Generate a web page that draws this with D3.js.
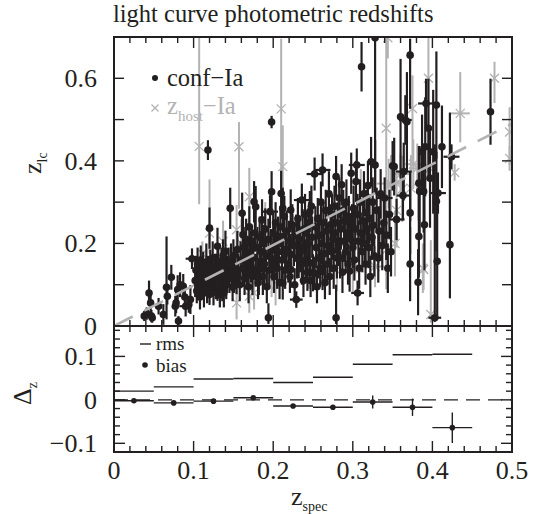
<!DOCTYPE html>
<html>
<head>
<meta charset="utf-8">
<script src="https://d3js.org/d3.v7.min.js"></script>
<style>
  body { margin: 0; background: #fff; }
  text { font-family: "Liberation Serif", "Times New Roman", serif; fill: #231f20; }
</style>
</head>
<body>
<div id="chart"></div>
<script>
// conf-Ia: [z_spec, z_lc, error below, error above, error in z_spec]
const confIa = [
  [0.038, 0.024, 0.012, 0.012, 0.004], [0.041, 0.030, 0.015, 0.015, 0], [0.044, 0.080, 0.030, 0.030, 0],
  [0.046, 0.056, 0.025, 0.025, 0], [0.047, 0.024, 0.015, 0.015, 0], [0.048, 0.020, 0.012, 0.012, 0.003],
  [0.056, 0.048, 0.020, 0.020, 0], [0.062, 0.028, 0.025, 0.025, 0], [0.066, 0.094, 0.078, 0.123, 0],
  [0.067, 0.072, 0.020, 0.020, 0], [0.072, 0.118, 0.030, 0.030, 0], [0.077, 0.048, 0.025, 0.025, 0],
  [0.078, 0.056, 0.025, 0.035, 0], [0.080, 0.088, 0.035, 0.035, 0], [0.081, 0.012, 0.012, 0.012, 0],
  [0.083, 0.100, 0.030, 0.030, 0], [0.087, 0.096, 0.030, 0.030, 0], [0.089, 0.070, 0.030, 0.030, 0],
  [0.090, 0.048, 0.025, 0.025, 0.008], [0.094, 0.052, 0.020, 0.020, 0], [0.096, 0.064, 0.035, 0.035, 0],
  [0.098, 0.163, 0.025, 0.025, 0.008],
  [0.102, 0.110, 0.04, 0.04, 0], [0.103, 0.135, 0.035, 0.035, 0], [0.104, 0.085, 0.03, 0.03, 0],
  [0.105, 0.150, 0.04, 0.04, 0], [0.106, 0.100, 0.035, 0.035, 0.006], [0.107, 0.125, 0.04, 0.04, 0],
  [0.108, 0.070, 0.03, 0.03, 0], [0.109, 0.160, 0.035, 0.035, 0], [0.110, 0.115, 0.045, 0.045, 0],
  [0.111, 0.095, 0.03, 0.03, 0], [0.112, 0.140, 0.04, 0.04, 0], [0.113, 0.080, 0.035, 0.035, 0],
  [0.114, 0.120, 0.04, 0.04, 0], [0.115, 0.105, 0.03, 0.03, 0], [0.116, 0.155, 0.045, 0.045, 0],
  [0.117, 0.090, 0.035, 0.035, 0], [0.118, 0.130, 0.04, 0.04, 0], [0.118, 0.426, 0.024, 0.024, 0],
  [0.119, 0.110, 0.035, 0.035, 0], [0.120, 0.076, 0.025, 0.025, 0.008], [0.120, 0.237, 0.05, 0.05, 0],
  [0.121, 0.145, 0.04, 0.04, 0], [0.122, 0.100, 0.03, 0.03, 0], [0.123, 0.125, 0.045, 0.045, 0],
  [0.124, 0.165, 0.04, 0.04, 0], [0.125, 0.085, 0.035, 0.035, 0], [0.126, 0.115, 0.04, 0.04, 0],
  [0.127, 0.140, 0.035, 0.035, 0], [0.128, 0.095, 0.03, 0.03, 0], [0.129, 0.130, 0.045, 0.045, 0],
  [0.130, 0.193, 0.045, 0.045, 0], [0.130, 0.096, 0.035, 0.035, 0], [0.131, 0.157, 0.035, 0.035, 0],
  [0.132, 0.105, 0.035, 0.035, 0], [0.133, 0.075, 0.03, 0.03, 0.006], [0.134, 0.120, 0.04, 0.04, 0],
  [0.135, 0.145, 0.045, 0.045, 0], [0.136, 0.090, 0.03, 0.03, 0], [0.137, 0.170, 0.04, 0.04, 0],
  [0.138, 0.080, 0.035, 0.035, 0], [0.139, 0.135, 0.04, 0.04, 0], [0.140, 0.181, 0.05, 0.05, 0],
  [0.141, 0.100, 0.035, 0.035, 0], [0.142, 0.125, 0.045, 0.045, 0], [0.144, 0.150, 0.04, 0.04, 0],
  [0.145, 0.115, 0.035, 0.035, 0], [0.146, 0.285, 0.05, 0.05, 0], [0.147, 0.160, 0.04, 0.04, 0],
  [0.148, 0.130, 0.045, 0.045, 0], [0.149, 0.095, 0.035, 0.035, 0], [0.150, 0.170, 0.04, 0.04, 0],
  [0.151, 0.120, 0.04, 0.04, 0], [0.152, 0.145, 0.045, 0.045, 0], [0.154, 0.112, 0.035, 0.035, 0],
  [0.155, 0.185, 0.045, 0.045, 0], [0.156, 0.135, 0.04, 0.04, 0], [0.158, 0.100, 0.04, 0.04, 0],
  [0.159, 0.160, 0.045, 0.045, 0],
  [0.161, 0.273, 0.05, 0.05, 0], [0.162, 0.221, 0.05, 0.05, 0], [0.162, 0.140, 0.045, 0.045, 0],
  [0.163, 0.190, 0.05, 0.05, 0], [0.164, 0.115, 0.04, 0.04, 0], [0.165, 0.170, 0.045, 0.045, 0],
  [0.166, 0.210, 0.05, 0.05, 0], [0.167, 0.130, 0.04, 0.04, 0], [0.168, 0.155, 0.045, 0.045, 0],
  [0.169, 0.095, 0.04, 0.04, 0], [0.170, 0.240, 0.05, 0.05, 0], [0.171, 0.180, 0.05, 0.05, 0],
  [0.172, 0.145, 0.04, 0.04, 0], [0.173, 0.200, 0.045, 0.045, 0.006], [0.174, 0.120, 0.045, 0.045, 0],
  [0.175, 0.165, 0.05, 0.05, 0], [0.176, 0.301, 0.05, 0.05, 0], [0.177, 0.225, 0.045, 0.045, 0],
  [0.178, 0.289, 0.05, 0.05, 0], [0.178, 0.135, 0.04, 0.04, 0], [0.180, 0.190, 0.05, 0.05, 0],
  [0.181, 0.105, 0.04, 0.04, 0], [0.182, 0.120, 0.045, 0.045, 0], [0.183, 0.215, 0.05, 0.05, 0],
  [0.184, 0.140, 0.04, 0.04, 0], [0.185, 0.180, 0.05, 0.05, 0], [0.186, 0.257, 0.05, 0.05, 0],
  [0.187, 0.120, 0.045, 0.045, 0], [0.188, 0.200, 0.045, 0.045, 0], [0.189, 0.150, 0.05, 0.05, 0],
  [0.190, 0.235, 0.05, 0.05, 0], [0.191, 0.170, 0.04, 0.04, 0], [0.192, 0.095, 0.04, 0.04, 0],
  [0.194, 0.020, 0.015, 0.035, 0], [0.194, 0.210, 0.05, 0.05, 0], [0.195, 0.135, 0.045, 0.045, 0],
  [0.196, 0.277, 0.04, 0.04, 0.01], [0.197, 0.185, 0.05, 0.05, 0], [0.198, 0.325, 0.05, 0.05, 0],
  [0.198, 0.494, 0.015, 0.015, 0], [0.199, 0.155, 0.045, 0.045, 0], [0.200, 0.225, 0.05, 0.05, 0],
  [0.201, 0.120, 0.04, 0.04, 0], [0.202, 0.195, 0.05, 0.05, 0], [0.203, 0.250, 0.05, 0.05, 0],
  [0.204, 0.165, 0.045, 0.045, 0], [0.205, 0.140, 0.05, 0.05, 0], [0.206, 0.215, 0.05, 0.05, 0],
  [0.207, 0.180, 0.045, 0.045, 0], [0.208, 0.105, 0.04, 0.04, 0], [0.209, 0.240, 0.05, 0.05, 0],
  [0.210, 0.321, 0.055, 0.055, 0], [0.211, 0.160, 0.05, 0.05, 0], [0.212, 0.104, 0.04, 0.04, 0],
  [0.212, 0.285, 0.05, 0.05, 0], [0.213, 0.217, 0.05, 0.05, 0], [0.214, 0.265, 0.05, 0.05, 0],
  [0.215, 0.135, 0.045, 0.045, 0], [0.216, 0.185, 0.05, 0.05, 0], [0.217, 0.230, 0.05, 0.05, 0.006],
  [0.219, 0.150, 0.045, 0.045, 0], [0.220, 0.205, 0.05, 0.05, 0], [0.221, 0.120, 0.04, 0.04, 0],
  [0.222, 0.281, 0.05, 0.05, 0], [0.222, 0.173, 0.05, 0.05, 0], [0.222, 0.137, 0.045, 0.045, 0],
  [0.224, 0.245, 0.05, 0.05, 0], [0.226, 0.195, 0.05, 0.05, 0], [0.227, 0.100, 0.04, 0.04, 0],
  [0.229, 0.064, 0.02, 0.02, 0.008], [0.229, 0.220, 0.05, 0.05, 0], [0.230, 0.165, 0.05, 0.05, 0],
  [0.231, 0.260, 0.05, 0.05, 0], [0.232, 0.161, 0.045, 0.045, 0], [0.233, 0.210, 0.05, 0.05, 0],
  [0.234, 0.180, 0.05, 0.05, 0], [0.236, 0.305, 0.04, 0.04, 0.01], [0.236, 0.150, 0.05, 0.05, 0],
  [0.237, 0.233, 0.05, 0.05, 0], [0.238, 0.110, 0.04, 0.04, 0], [0.239, 0.195, 0.05, 0.05, 0],
  [0.240, 0.270, 0.05, 0.05, 0], [0.241, 0.160, 0.05, 0.05, 0], [0.242, 0.225, 0.05, 0.05, 0],
  [0.243, 0.130, 0.045, 0.045, 0], [0.244, 0.200, 0.05, 0.05, 0], [0.245, 0.250, 0.05, 0.05, 0],
  [0.246, 0.277, 0.05, 0.05, 0], [0.246, 0.153, 0.05, 0.05, 0], [0.247, 0.110, 0.04, 0.04, 0],
  [0.248, 0.290, 0.05, 0.05, 0], [0.249, 0.215, 0.05, 0.05, 0], [0.250, 0.129, 0.045, 0.045, 0],
  [0.252, 0.368, 0.04, 0.04, 0.01], [0.252, 0.128, 0.04, 0.04, 0], [0.253, 0.240, 0.05, 0.05, 0],
  [0.254, 0.190, 0.05, 0.05, 0], [0.255, 0.095, 0.04, 0.04, 0], [0.256, 0.260, 0.05, 0.05, 0],
  [0.257, 0.165, 0.05, 0.05, 0], [0.258, 0.220, 0.05, 0.05, 0], [0.259, 0.140, 0.045, 0.045, 0],
  [0.260, 0.300, 0.05, 0.05, 0], [0.261, 0.200, 0.05, 0.05, 0], [0.262, 0.378, 0.04, 0.04, 0.01],
  [0.262, 0.132, 0.045, 0.045, 0], [0.263, 0.250, 0.05, 0.05, 0], [0.264, 0.175, 0.05, 0.05, 0],
  [0.265, 0.105, 0.04, 0.04, 0], [0.266, 0.280, 0.05, 0.05, 0], [0.267, 0.230, 0.05, 0.05, 0],
  [0.268, 0.150, 0.05, 0.05, 0], [0.269, 0.195, 0.05, 0.05, 0], [0.270, 0.320, 0.055, 0.055, 0],
  [0.271, 0.120, 0.045, 0.045, 0], [0.272, 0.245, 0.05, 0.05, 0], [0.273, 0.180, 0.05, 0.05, 0],
  [0.274, 0.270, 0.05, 0.05, 0], [0.275, 0.210, 0.05, 0.05, 0], [0.276, 0.140, 0.05, 0.05, 0],
  [0.277, 0.290, 0.05, 0.05, 0], [0.278, 0.225, 0.05, 0.05, 0], [0.279, 0.020, 0.015, 0.08, 0],
  [0.279, 0.362, 0.05, 0.05, 0], [0.280, 0.165, 0.05, 0.05, 0], [0.281, 0.250, 0.05, 0.05, 0],
  [0.282, 0.195, 0.05, 0.05, 0], [0.283, 0.310, 0.05, 0.05, 0], [0.284, 0.165, 0.05, 0.05, 0],
  [0.285, 0.235, 0.05, 0.05, 0], [0.286, 0.342, 0.05, 0.05, 0], [0.287, 0.130, 0.05, 0.05, 0],
  [0.288, 0.280, 0.05, 0.05, 0], [0.289, 0.205, 0.05, 0.05, 0], [0.290, 0.255, 0.05, 0.05, 0],
  [0.291, 0.180, 0.05, 0.05, 0], [0.292, 0.300, 0.055, 0.055, 0], [0.293, 0.225, 0.05, 0.05, 0],
  [0.294, 0.150, 0.05, 0.05, 0], [0.295, 0.265, 0.05, 0.05, 0], [0.296, 0.133, 0.05, 0.05, 0],
  [0.297, 0.210, 0.05, 0.05, 0], [0.298, 0.370, 0.05, 0.05, 0], [0.299, 0.245, 0.05, 0.05, 0],
  [0.300, 0.190, 0.05, 0.05, 0], [0.301, 0.285, 0.055, 0.055, 0], [0.302, 0.160, 0.05, 0.05, 0],
  [0.303, 0.235, 0.05, 0.05, 0], [0.304, 0.350, 0.05, 0.05, 0], [0.305, 0.390, 0.04, 0.04, 0.01],
  [0.306, 0.080, 0.03, 0.03, 0.008], [0.306, 0.270, 0.05, 0.05, 0], [0.307, 0.205, 0.05, 0.05, 0],
  [0.308, 0.140, 0.05, 0.05, 0], [0.309, 0.300, 0.055, 0.055, 0], [0.310, 0.225, 0.05, 0.05, 0],
  [0.311, 0.628, 0.06, 0.06, 0], [0.312, 0.180, 0.05, 0.05, 0], [0.313, 0.255, 0.055, 0.055, 0],
  [0.314, 0.320, 0.055, 0.055, 0], [0.315, 0.200, 0.05, 0.05, 0], [0.316, 0.150, 0.05, 0.05, 0],
  [0.317, 0.275, 0.055, 0.055, 0], [0.318, 0.235, 0.05, 0.05, 0], [0.319, 0.340, 0.06, 0.06, 0],
  [0.320, 0.190, 0.05, 0.05, 0], [0.321, 0.260, 0.06, 0.06, 0], [0.322, 0.120, 0.05, 0.05, 0],
  [0.323, 0.398, 0.06, 0.06, 0], [0.324, 0.215, 0.055, 0.055, 0], [0.325, 0.300, 0.06, 0.06, 0],
  [0.326, 0.244, 0.05, 0.05, 0], [0.327, 0.170, 0.05, 0.05, 0], [0.328, 0.698, 0.38, 0.01, 0],
  [0.328, 0.390, 0.06, 0.06, 0], [0.330, 0.280, 0.055, 0.055, 0], [0.332, 0.165, 0.06, 0.06, 0],
  [0.333, 0.230, 0.06, 0.06, 0], [0.335, 0.320, 0.06, 0.06, 0], [0.337, 0.195, 0.06, 0.06, 0],
  [0.339, 0.250, 0.06, 0.06, 0], [0.340, 0.310, 0.05, 0.05, 0.01], [0.342, 0.220, 0.06, 0.06, 0],
  [0.344, 0.140, 0.06, 0.06, 0], [0.346, 0.270, 0.06, 0.06, 0], [0.348, 0.180, 0.06, 0.06, 0],
  [0.350, 0.388, 0.06, 0.06, 0], [0.352, 0.386, 0.07, 0.07, 0], [0.355, 0.258, 0.05, 0.05, 0.01],
  [0.360, 0.507, 0.15, 0.14, 0], [0.363, 0.316, 0.06, 0.06, 0.008], [0.364, 0.374, 0.07, 0.07, 0.01],
  [0.366, 0.499, 0.06, 0.06, 0.008], [0.368, 0.495, 0.12, 0.12, 0], [0.372, 0.656, 0.13, 0.04, 0],
  [0.372, 0.274, 0.10, 0.10, 0], [0.372, 0.150, 0.09, 0.09, 0], [0.382, 0.106, 0.08, 0.08, 0],
  [0.383, 0.217, 0.10, 0.10, 0], [0.383, 0.346, 0.09, 0.09, 0], [0.384, 0.326, 0.11, 0.11, 0],
  [0.387, 0.422, 0.09, 0.09, 0], [0.389, 0.326, 0.10, 0.10, 0], [0.390, 0.245, 0.11, 0.11, 0],
  [0.391, 0.434, 0.12, 0.12, 0], [0.392, 0.539, 0.06, 0.06, 0.01], [0.395, 0.479, 0.12, 0.12, 0],
  [0.397, 0.358, 0.12, 0.12, 0], [0.401, 0.422, 0.15, 0.15, 0], [0.403, 0.020, 0.01, 0.42, 0.008],
  [0.405, 0.535, 0.13, 0.13, 0], [0.405, 0.302, 0.12, 0.12, 0], [0.406, 0.157, 0.14, 0.14, 0],
  [0.407, 0.322, 0.05, 0.05, 0.01], [0.412, 0.434, 0.10, 0.10, 0], [0.422, 0.197, 0.13, 0.32, 0],
  [0.424, 0.410, 0.03, 0.03, 0.01], [0.473, 0.519, 0.08, 0.08, 0]
];

// z_host-Ia: [z_spec, z_lc, error below, error above, error in z_spec]
const hostIa = [
  [0.107, 0.435, 0.14, 0.27, 0], [0.111, 0.175, 0.03, 0.03, 0], [0.120, 0.225, 0.05, 0.13, 0],
  [0.137, 0.205, 0.05, 0.05, 0], [0.140, 0.130, 0.05, 0.05, 0], [0.154, 0.056, 0.04, 0.04, 0],
  [0.154, 0.233, 0.06, 0.06, 0], [0.157, 0.434, 0.15, 0.06, 0], [0.160, 0.200, 0.06, 0.06, 0],
  [0.170, 0.313, 0.07, 0.07, 0], [0.170, 0.072, 0.04, 0.04, 0], [0.176, 0.080, 0.04, 0.04, 0],
  [0.190, 0.230, 0.07, 0.07, 0], [0.198, 0.120, 0.05, 0.05, 0], [0.203, 0.100, 0.05, 0.05, 0],
  [0.210, 0.526, 0.25, 0.17, 0], [0.212, 0.386, 0.08, 0.10, 0], [0.225, 0.200, 0.07, 0.07, 0],
  [0.245, 0.160, 0.07, 0.07, 0], [0.260, 0.220, 0.08, 0.08, 0], [0.265, 0.125, 0.06, 0.06, 0],
  [0.280, 0.144, 0.06, 0.06, 0], [0.285, 0.260, 0.07, 0.07, 0], [0.300, 0.140, 0.06, 0.06, 0],
  [0.310, 0.300, 0.08, 0.08, 0], [0.318, 0.210, 0.07, 0.07, 0], [0.328, 0.144, 0.05, 0.05, 0.012],
  [0.335, 0.250, 0.08, 0.08, 0], [0.342, 0.184, 0.06, 0.06, 0], [0.342, 0.479, 0.39, 0.22, 0],
  [0.344, 0.698, 0.05, 0.01, 0], [0.345, 0.345, 0.06, 0.06, 0.015], [0.348, 0.344, 0.07, 0.07, 0],
  [0.353, 0.200, 0.08, 0.08, 0], [0.355, 0.280, 0.09, 0.09, 0], [0.360, 0.368, 0.05, 0.05, 0.012],
  [0.362, 0.332, 0.08, 0.08, 0], [0.373, 0.334, 0.08, 0.08, 0], [0.375, 0.527, 0.14, 0.08, 0],
  [0.376, 0.392, 0.06, 0.06, 0.01], [0.381, 0.382, 0.06, 0.06, 0.01], [0.388, 0.140, 0.06, 0.06, 0],
  [0.389, 0.137, 0.05, 0.05, 0], [0.395, 0.600, 0.21, 0.10, 0], [0.397, 0.382, 0.08, 0.08, 0],
  [0.398, 0.028, 0.02, 0.18, 0], [0.428, 0.372, 0.02, 0.02, 0], [0.435, 0.515, 0.07, 0.10, 0.012],
  [0.478, 0.600, 0.06, 0.04, 0], [0.497, 0.470, 0.08, 0.06, 0], [0.497, 0.406, 0.03, 0.03, 0]
];

// bottom panel: rms per bin [bin start, bin end, rms]
const rmsBins = [
  [0.00, 0.05, 0.020], [0.05, 0.10, 0.030], [0.10, 0.15, 0.048], [0.15, 0.20, 0.049],
  [0.20, 0.25, 0.040], [0.25, 0.30, 0.052], [0.30, 0.35, 0.082], [0.35, 0.40, 0.104],
  [0.40, 0.45, 0.105]
];
// bias per bin [bin centre, bias, error]
const biasBins = [
  [0.025, -0.002, 0.004], [0.075, -0.007, 0.004], [0.125, -0.003, 0.004], [0.175, 0.005, 0.004],
  [0.225, -0.014, 0.004], [0.275, -0.017, 0.004], [0.325, -0.005, 0.015], [0.375, -0.017, 0.02],
  [0.425, -0.064, 0.035]
];
const fitLine = [[0, 0], [0.5, 0.49]];

const xTicks = [0, 0.1, 0.2, 0.3, 0.4, 0.5];
const yTopLabels = [0, 0.2, 0.4, 0.6];
const yBotLabels = [-0.1, 0, 0.1];

const black = "#231f20", grey = "#b2b2b2";

const svg = d3.select("#chart").append("svg")
  .attr("width", 548).attr("height", 514);

const x = d3.scaleLinear().domain([0, 0.5]).range([114, 512]);
const yTop = d3.scaleLinear().domain([0, 0.7]).range([326, 37]);
const yBot = d3.scaleLinear().domain([-0.12, 0.17]).range([452, 326]);

svg.append("clipPath").attr("id", "clipTop")
  .append("rect").attr("x", x(0)).attr("y", yTop(0.7))
  .attr("width", x(0.5) - x(0)).attr("height", yTop(0) - yTop(0.7));

const panelTop = svg.append("g").attr("clip-path", "url(#clipTop)");

// z_host-Ia in grey, behind
const gHost = panelTop.append("g").attr("stroke", grey).attr("stroke-width", 2);
hostIa.forEach(d => {
  gHost.append("line").attr("x1", x(d[0])).attr("x2", x(d[0]))
    .attr("y1", yTop(d[1] - d[2])).attr("y2", yTop(d[1] + d[3]));
  if (d[4]) gHost.append("line").attr("x1", x(d[0] - d[4])).attr("x2", x(d[0] + d[4]))
    .attr("y1", yTop(d[1])).attr("y2", yTop(d[1]));
  const cx = x(d[0]), cy = yTop(d[1]), s = 4.5;
  gHost.append("path").attr("stroke-width", 1.3)
    .attr("d", `M${cx - s},${cy - s}L${cx + s},${cy + s}M${cx - s},${cy + s}L${cx + s},${cy - s}`);
});

// conf-Ia in black
const gConf = panelTop.append("g").attr("stroke", black).attr("stroke-width", 2.2);
confIa.forEach(d => {
  gConf.append("line").attr("x1", x(d[0])).attr("x2", x(d[0]))
    .attr("y1", yTop(d[1] - d[2])).attr("y2", yTop(d[1] + d[3]));
  if (d[4]) gConf.append("line").attr("x1", x(d[0] - d[4])).attr("x2", x(d[0] + d[4]))
    .attr("y1", yTop(d[1])).attr("y2", yTop(d[1]));
});
panelTop.append("g").selectAll("circle").data(confIa).join("circle")
  .attr("cx", d => x(d[0])).attr("cy", d => yTop(d[1])).attr("r", 3.8).attr("fill", black);

// fit line
panelTop.append("line")
  .attr("x1", x(fitLine[0][0])).attr("y1", yTop(fitLine[0][1]))
  .attr("x2", x(fitLine[1][0])).attr("y2", yTop(fitLine[1][1]))
  .attr("stroke", grey).attr("stroke-width", 2.6).attr("stroke-dasharray", "21,13");

// legend
svg.append("circle").attr("cx", 155).attr("cy", 78).attr("r", 3).attr("fill", black);
svg.append("text").attr("x", 167).attr("y", 86).attr("font-size", 24.5).text("conf\u2212Ia");
svg.append("path").attr("stroke", grey).attr("stroke-width", 1.3)
  .attr("d", "M151.5,104.5L158.5,111.5M151.5,111.5L158.5,104.5");
const lt = svg.append("text").attr("x", 167).attr("y", 114).attr("font-size", 24.5).style("fill", grey);
lt.append("tspan").text("z");
lt.append("tspan").attr("dy", 7).attr("font-size", 15).text("host");
lt.append("tspan").attr("dy", -7).text("\u2212Ia");

// bottom panel
const bot = svg.append("g");
bot.append("line").attr("x1", x(0)).attr("x2", x(0.5)).attr("y1", yBot(0)).attr("y2", yBot(0))
  .attr("stroke", black).attr("stroke-width", 1.4).attr("stroke-dasharray", "14,8");
bot.append("g").selectAll("line").data(rmsBins).join("line")
  .attr("x1", d => x(d[0])).attr("x2", d => x(d[1]))
  .attr("y1", d => yBot(d[2])).attr("y2", d => yBot(d[2]))
  .attr("stroke", black).attr("stroke-width", 1.4);
biasBins.forEach(d => {
  bot.append("line").attr("x1", x(d[0] - 0.025)).attr("x2", x(d[0] + 0.025))
    .attr("y1", yBot(d[1])).attr("y2", yBot(d[1])).attr("stroke", black).attr("stroke-width", 1.4);
  bot.append("line").attr("x1", x(d[0])).attr("x2", x(d[0]))
    .attr("y1", yBot(d[1] - d[2])).attr("y2", yBot(d[1] + d[2])).attr("stroke", black).attr("stroke-width", 1.4);
  bot.append("circle").attr("cx", x(d[0])).attr("cy", yBot(d[1])).attr("r", 2.8).attr("fill", black);
});
// bottom legend
bot.append("line").attr("x1", 140).attr("x2", 151).attr("y1", 344).attr("y2", 344)
  .attr("stroke", black).attr("stroke-width", 1.4);
bot.append("text").attr("x", 156).attr("y", 350).attr("font-size", 19).text("rms");
bot.append("circle").attr("cx", 145).attr("cy", 365).attr("r", 2.8).attr("fill", black);
bot.append("text").attr("x", 156).attr("y", 372).attr("font-size", 19).text("bias");

// ticks
const tk = svg.append("g").attr("stroke", black).attr("stroke-width", 1.4);
function xTicksAt(yPos, dir) {
  d3.range(0, 0.5001, 0.02).forEach(v => {
    const major = Math.abs(v * 10 - Math.round(v * 10)) < 1e-6;
    const len = major ? 11 : 6;
    tk.append("line").attr("x1", x(v)).attr("x2", x(v)).attr("y1", yPos).attr("y2", yPos + dir * len);
  });
}
xTicksAt(yTop(0.7), 1);
xTicksAt(yTop(0), -1);
xTicksAt(yBot(0.17), 1);
xTicksAt(yBot(-0.12), -1);
d3.range(0.1, 0.7, 0.1).forEach(v => {
  tk.append("line").attr("x1", x(0)).attr("x2", x(0) + 10).attr("y1", yTop(v)).attr("y2", yTop(v));
  tk.append("line").attr("x1", x(0.5)).attr("x2", x(0.5) - 10).attr("y1", yTop(v)).attr("y2", yTop(v));
});
d3.range(-0.1, 0.17, 0.02).forEach(v => {
  const major = Math.abs(v * 10 - Math.round(v * 10)) < 1e-6;
  const len = major ? 11 : 6;
  tk.append("line").attr("x1", x(0)).attr("x2", x(0) + len).attr("y1", yBot(v)).attr("y2", yBot(v));
  tk.append("line").attr("x1", x(0.5)).attr("x2", x(0.5) - len).attr("y1", yBot(v)).attr("y2", yBot(v));
});

// frames
svg.append("rect").attr("x", x(0)).attr("y", yTop(0.7)).attr("width", x(0.5) - x(0))
  .attr("height", yTop(0) - yTop(0.7)).attr("fill", "none").attr("stroke", black).attr("stroke-width", 2);
svg.append("rect").attr("x", x(0)).attr("y", yBot(0.17)).attr("width", x(0.5) - x(0))
  .attr("height", yBot(-0.12) - yBot(0.17)).attr("fill", "none").attr("stroke", black).attr("stroke-width", 2);

// tick labels
const fmt = d => d3.format("~g")(Math.round(d * 10) / 10);
svg.append("g").selectAll("text").data(xTicks).join("text")
  .attr("x", d => x(d)).attr("y", 479).attr("text-anchor", "middle").attr("font-size", 26).text(fmt);
svg.append("g").selectAll("text").data(yTopLabels).join("text")
  .attr("x", 97).attr("y", d => yTop(d) + 9).attr("text-anchor", "end").attr("font-size", 26).text(fmt);
svg.append("g").selectAll("text").data(yBotLabels).join("text")
  .attr("x", 97).attr("y", d => yBot(d) + 9).attr("text-anchor", "end").attr("font-size", 26).text(fmt);

// titles
svg.append("text").attr("x", 113).attr("y", 22).attr("font-size", 24.5).text("light curve photometric redshifts");
const xl = svg.append("text").attr("x", 291).attr("y", 505).attr("font-size", 26);
xl.append("tspan").text("z");
xl.append("tspan").attr("dy", 6).attr("font-size", 14).text("spec");
const yl = svg.append("text").attr("transform", "translate(41,174) rotate(-90)").attr("font-size", 26);
yl.append("tspan").text("z");
yl.append("tspan").attr("dy", 6).attr("font-size", 14).text("lc");
const dl = svg.append("text").attr("transform", "translate(31,405) rotate(-90)").attr("font-size", 26);
dl.append("tspan").text("\u0394");
dl.append("tspan").attr("dy", 6).attr("font-size", 14).text("z");
</script>
</body>
</html>
